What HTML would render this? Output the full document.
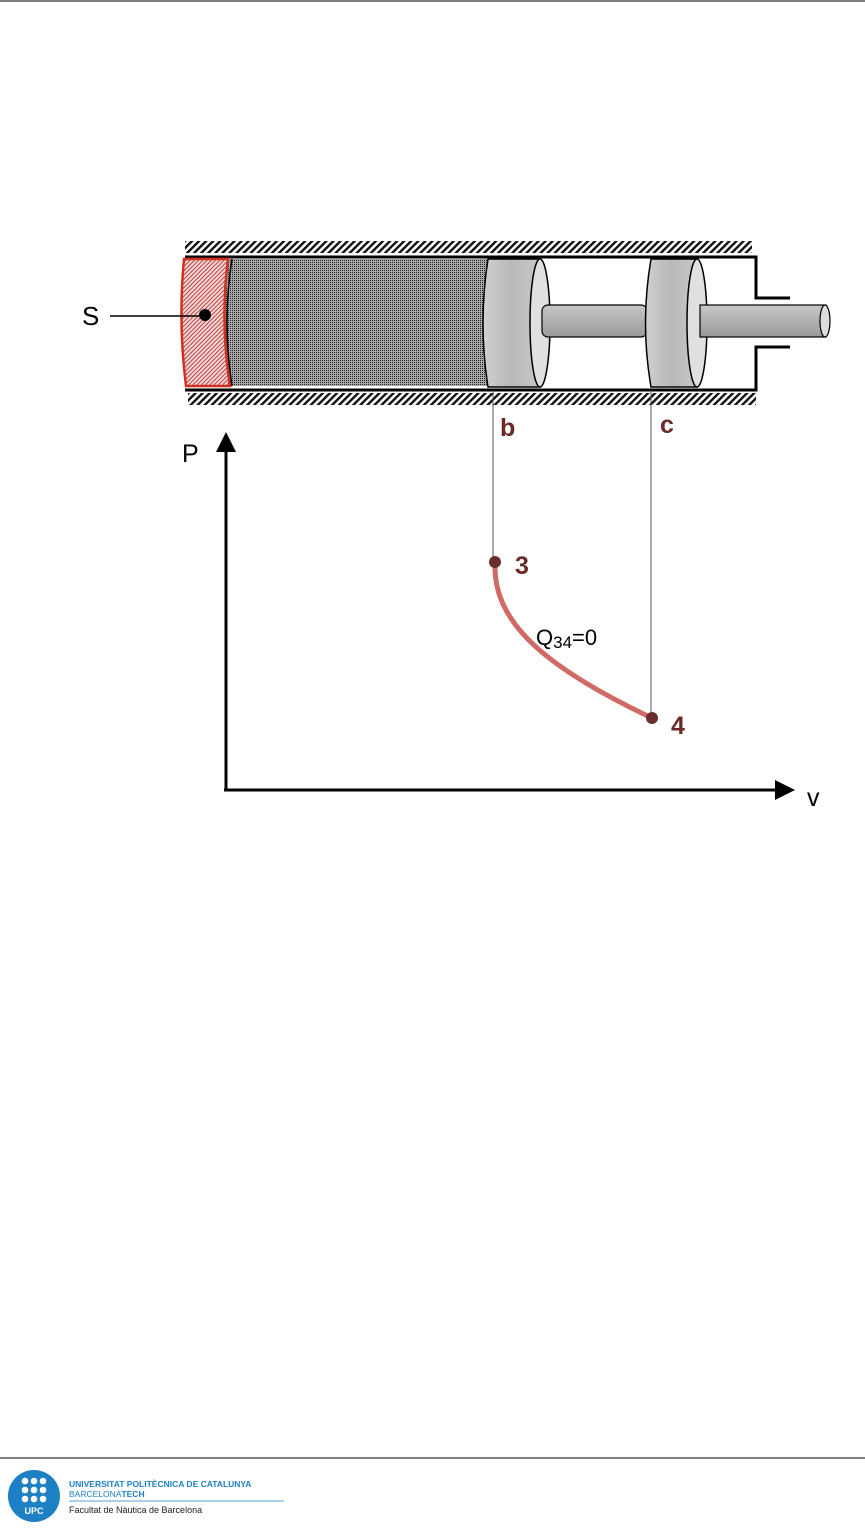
<!DOCTYPE html>
<html><head><meta charset="utf-8"><style>
html,body{margin:0;padding:0;background:#fff;}
svg{display:block;}
</style></head><body>
<svg width="865" height="1537" viewBox="0 0 865 1537" xmlns="http://www.w3.org/2000/svg" font-family="Liberation Sans, sans-serif">
<defs>
<pattern id="h" width="5" height="5" patternUnits="userSpaceOnUse" patternTransform="rotate(45)">
<rect width="5" height="5" fill="#fff"/><rect width="2.4" height="5" fill="#111"/></pattern>
<pattern id="rh" width="3" height="3" patternUnits="userSpaceOnUse" patternTransform="rotate(45)">
<rect width="3" height="3" fill="#f3d8d8"/><rect width="1" height="3" fill="#c04040"/></pattern>
<pattern id="dots" width="2" height="2" patternUnits="userSpaceOnUse">
<rect width="2" height="2" fill="#a8a8a8"/><rect width="1" height="1" fill="#222"/></pattern>
<linearGradient id="pg" x1="0" y1="0" x2="1" y2="0"><stop offset="0" stop-color="#d0d0d0"/><stop offset="0.5" stop-color="#b8b8b8"/><stop offset="1" stop-color="#c8c8c8"/></linearGradient>
<linearGradient id="rg" x1="0" y1="0" x2="0" y2="1"><stop offset="0" stop-color="#c8c8c8"/><stop offset="0.5" stop-color="#b0b0b0"/><stop offset="1" stop-color="#999"/></linearGradient>
</defs>
<line x1="0" y1="1" x2="865" y2="1" stroke="#000" stroke-width="1"/>
<rect x="185" y="241" width="567" height="12" fill="url(#h)"/>
<rect x="188" y="393" width="568" height="12" fill="url(#h)"/>
<path d="M185 257 H756 V298 H790" fill="none" stroke="#000" stroke-width="3"/>
<path d="M790 347 H756 V390 H185" fill="none" stroke="#000" stroke-width="3"/>
<rect x="225" y="259" width="265" height="127" fill="url(#dots)"/>
<path d="M232 259 Q222 322 232 386" fill="none" stroke="#000" stroke-width="1.5"/>
<path d="M184 259 H228 Q220 322 230 386 H186 Q178 322 184 259 Z" fill="url(#rh)" stroke="#d03020" stroke-width="2.5"/>
<path d="M488 259 H540 V387 H488 Q478 323 488 259Z" fill="url(#pg)" stroke="#000" stroke-width="1.5"/>
<ellipse cx="540" cy="323" rx="10" ry="64" fill="#e0e0e0" stroke="#000" stroke-width="1.5"/>
<rect x="542" y="305" width="105" height="32" rx="6" fill="url(#rg)" stroke="#000" stroke-width="1.2"/>
<path d="M651 259 H697 V387 H651 Q640 323 651 259Z" fill="url(#pg)" stroke="#000" stroke-width="1.5"/>
<ellipse cx="697" cy="323" rx="10" ry="64" fill="#e0e0e0" stroke="#000" stroke-width="1.5"/>
<rect x="700" y="305" width="126" height="32" fill="url(#rg)" stroke="#000" stroke-width="1.2"/>
<ellipse cx="825" cy="321" rx="5" ry="16" fill="#ddd" stroke="#000" stroke-width="1.2"/>
<text x="82" y="325" font-size="26" fill="#000">S</text>
<line x1="110" y1="316" x2="205" y2="316" stroke="#000" stroke-width="1.5"/>
<circle cx="205" cy="315" r="6" fill="#000"/>
<line x1="493" y1="390" x2="493" y2="562" stroke="#555" stroke-width="1"/>
<line x1="651" y1="390" x2="651" y2="718" stroke="#555" stroke-width="1"/>
<text x="500" y="436" font-size="25" font-weight="bold" fill="#6b2a2a">b</text>
<text x="660" y="433" font-size="25" font-weight="bold" fill="#6b2a2a">c</text>
<line x1="226" y1="791" x2="226" y2="450" stroke="#000" stroke-width="3"/>
<polygon points="226,432 216,452 236,452" fill="#000"/>
<line x1="224" y1="790" x2="775" y2="790" stroke="#000" stroke-width="3"/>
<polygon points="795,790 775,780 775,800" fill="#000"/>
<text x="182" y="462" font-size="25" fill="#000">P</text>
<text x="807" y="806" font-size="25" fill="#000">v</text>
<path d="M495 563 C493 620 540 665 652 718" fill="none" stroke="#d06a64" stroke-width="5"/>
<circle cx="495" cy="562" r="6" fill="#6b2e2e"/>
<circle cx="652" cy="718" r="6" fill="#6b2e2e"/>
<text x="515" y="574" font-size="25" font-weight="bold" fill="#6b2a2a">3</text>
<text x="671" y="734" font-size="25" font-weight="bold" fill="#6b2a2a">4</text>
<text x="536" y="645" font-size="22" fill="#000">Q<tspan font-size="17" dy="3">34</tspan><tspan dy="-3">=0</tspan></text>
<line x1="0" y1="1458" x2="865" y2="1458" stroke="#000" stroke-width="1"/>
<circle cx="34" cy="1496" r="26" fill="#1d7fc4"/>
<g fill="#fff">
<circle cx="25" cy="1481" r="3.3"/><circle cx="34" cy="1481" r="3.3"/><circle cx="43" cy="1481" r="3.3"/>
<circle cx="25" cy="1490" r="3.3"/><circle cx="34" cy="1490" r="3.3"/><circle cx="43" cy="1490" r="3.3"/>
<circle cx="25" cy="1499" r="3.3"/><circle cx="34" cy="1499" r="3.3"/><circle cx="43" cy="1499" r="3.3"/>
</g>
<text x="34" y="1514" font-size="9" font-weight="bold" fill="#fff" text-anchor="middle">UPC</text>
<text x="69" y="1487" font-size="8.5" font-weight="bold" fill="#1d7fc4">UNIVERSITAT POLITÈCNICA DE CATALUNYA</text>
<text x="69" y="1497" font-size="8.5" fill="#1d7fc4">BARCELONA<tspan font-weight="bold">TECH</tspan></text>
<line x1="69" y1="1501" x2="284" y2="1501" stroke="#1d7fc4" stroke-width="0.8"/>
<text x="69" y="1513" font-size="9" fill="#222">Facultat de Nàutica de Barcelona</text>
</svg>
</body></html>
